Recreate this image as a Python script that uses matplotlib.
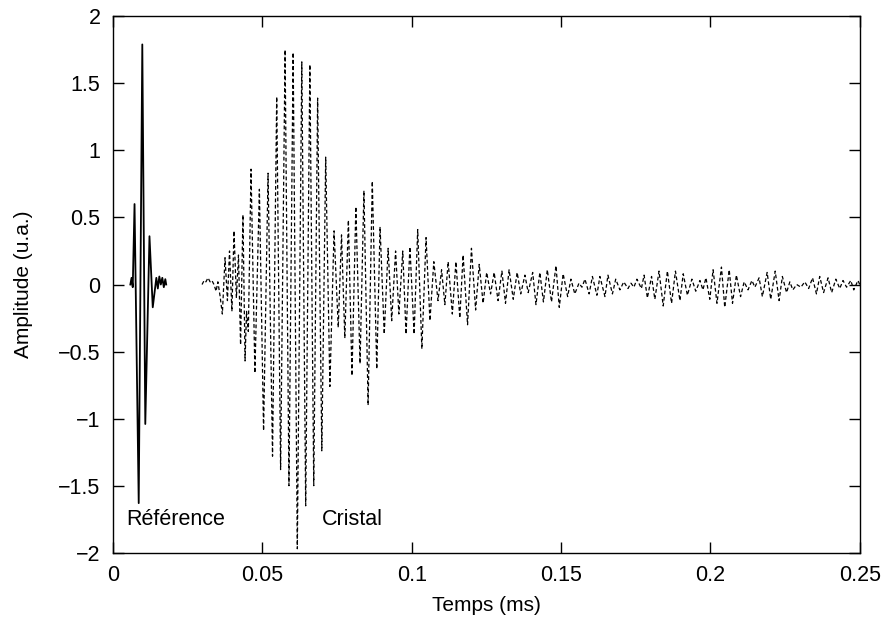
import matplotlib
matplotlib.use("Agg")
import matplotlib.pyplot as plt

plt.rcParams["font.family"] = ["Liberation Sans", "DejaVu Sans"]

# signal de reference (trait plein)
ref_t = [0.0058, 0.0062, 0.0066, 0.0072, 0.0086, 0.0098, 0.0108, 0.0122,
         0.0133, 0.0145, 0.0150, 0.0155, 0.0160, 0.0165, 0.0170, 0.0175, 0.0178]
ref_amp = [0.00, 0.05, -0.02, 0.60, -1.63, 1.79, -1.04, 0.36,
           -0.17, 0.05, -0.03, 0.06, 0.00, 0.05, -0.02, 0.04, 0.00]

# signal apres le cristal (pointilles), extrema
cristal_t = [
    0.0298, 0.0305, 0.0311, 0.0318, 0.0325, 0.0331, 0.0338, 0.0345, 0.0351, 0.0358,
    0.0366, 0.0375, 0.0383, 0.0390, 0.0398, 0.0405, 0.0413, 0.0420, 0.0427, 0.0435,
    0.0442, 0.0447, 0.0453, 0.0462, 0.0475, 0.0490, 0.0504, 0.0519, 0.0534, 0.0548,
    0.0561, 0.0576, 0.0589, 0.0603, 0.0617, 0.0632, 0.0645, 0.0659, 0.0672, 0.0685,
    0.0699, 0.0712, 0.0726, 0.0740, 0.0754, 0.0765, 0.0776, 0.0788, 0.0800, 0.0813,
    0.0827, 0.0840, 0.0854, 0.0868, 0.0883, 0.0894, 0.0908, 0.0921, 0.0933, 0.0946,
    0.0957, 0.0970, 0.0981, 0.0994, 0.1008, 0.1020, 0.1034, 0.1048, 0.1061, 0.1074,
    0.1088, 0.1100, 0.1111, 0.1122, 0.1136, 0.1148, 0.1161, 0.1172, 0.1187, 0.1200,
    0.1214, 0.1226, 0.1239, 0.1251, 0.1264, 0.1276, 0.1289, 0.1302, 0.1314, 0.1326,
    0.1340, 0.1353, 0.1365, 0.1379, 0.1390, 0.1405, 0.1416, 0.1429, 0.1441, 0.1454,
    0.1468, 0.1483, 0.1494, 0.1507, 0.1522, 0.1533, 0.1546, 0.1560, 0.1570, 0.1580,
    0.1594, 0.1605, 0.1620, 0.1630, 0.1647, 0.1657, 0.1672, 0.1683, 0.1697, 0.1710,
    0.1724, 0.1734, 0.1744, 0.1754, 0.1769, 0.1778, 0.1789, 0.1803, 0.1814, 0.1828,
    0.1842, 0.1856, 0.1870, 0.1883, 0.1898, 0.1909, 0.1923, 0.1938, 0.1951, 0.1965,
    0.1975, 0.1985, 0.1998, 0.2009, 0.2022, 0.2037, 0.2048, 0.2063, 0.2074, 0.2087,
    0.2101, 0.2113, 0.2126, 0.2139, 0.2149, 0.2163, 0.2174, 0.2190, 0.2202, 0.2217,
    0.2230, 0.2241, 0.2255, 0.2266, 0.2276, 0.2289, 0.2303, 0.2316, 0.2329, 0.2342,
    0.2355, 0.2366, 0.2379, 0.2394, 0.2406, 0.2420, 0.2433, 0.2444, 0.2456, 0.2470,
    0.2480, 0.2494, 0.2500,
]
cristal_amp = [
    0.00, 0.03, 0.02, 0.05, 0.02, 0.03, 0.00, -0.05, 0.02, -0.08,
    -0.22, 0.20, -0.12, 0.25, -0.20, 0.40, -0.10, 0.22, -0.45, 0.52,
    -0.57, -0.20, -0.35, 0.86, -0.66, 0.71, -1.09, 0.83, -1.28, 1.40,
    -1.38, 1.75, -1.50, 1.73, -1.97, 1.66, -1.65, 1.64, -1.50, 1.39,
    -1.24, 0.95, -0.76, 0.40, -0.32, 0.37, -0.40, 0.48, -0.68, 0.58,
    -0.59, 0.70, -0.90, 0.77, -0.63, 0.43, -0.37, 0.27, -0.27, 0.25,
    -0.22, 0.25, -0.37, 0.28, -0.37, 0.41, -0.48, 0.35, -0.27, 0.17,
    -0.12, 0.11, -0.15, 0.17, -0.22, 0.17, -0.25, 0.22, -0.30, 0.27,
    -0.19, 0.15, -0.14, 0.09, -0.07, 0.09, -0.12, 0.10, -0.14, 0.11,
    -0.11, 0.09, -0.07, 0.07, -0.06, 0.09, -0.15, 0.09, -0.13, 0.11,
    -0.13, 0.14, -0.17, 0.08, -0.09, 0.04, -0.07, 0.01, -0.02, 0.04,
    -0.07, 0.06, -0.08, 0.06, -0.09, 0.07, -0.07, 0.04, -0.04, 0.02,
    -0.03, 0.01, -0.02, 0.04, -0.03, 0.07, -0.10, 0.06, -0.11, 0.10,
    -0.16, 0.10, -0.14, 0.10, -0.12, 0.08, -0.08, 0.04, -0.05, 0.03,
    -0.04, 0.05, -0.11, 0.11, -0.14, 0.13, -0.17, 0.11, -0.14, 0.07,
    -0.09, 0.02, -0.04, 0.03, -0.02, 0.05, -0.09, 0.09, -0.11, 0.10,
    -0.12, 0.06, -0.06, 0.02, -0.04, 0.00, -0.02, 0.02, -0.03, 0.05,
    -0.07, 0.06, -0.06, 0.05, -0.06, 0.04, -0.03, 0.03, -0.02, 0.03,
    -0.04, 0.03, 0.00,
]

fig = plt.figure(figsize=(8.9, 6.26), dpi=100)
ax = fig.add_axes([0.127, 0.117, 0.839, 0.857])

ax.plot(ref_t, ref_amp, color="black", lw=1.3)
ax.plot(cristal_t, cristal_amp, color="black", lw=0.9, linestyle=(0, (3, 2)))

ax.text(0.0045, -1.75, "Référence", fontsize=15.5, va="center")
ax.text(0.0698, -1.75, "Cristal", fontsize=15.5, va="center")

ax.set_xlim(0, 0.25)
ax.set_ylim(-2, 2)
ax.set_xticks([0, 0.05, 0.1, 0.15, 0.2, 0.25])
ax.set_xticklabels(["0", "0.05", "0.1", "0.15", "0.2", "0.25"])
ax.set_yticks([-2, -1.5, -1, -0.5, 0, 0.5, 1, 1.5, 2])
ax.set_yticklabels(["\u22122", "\u22121.5", "\u22121", "\u22120.5", "0", "0.5", "1", "1.5", "2"])
ax.tick_params(direction="in", length=8, width=1, top=True, right=True, labelsize=15.5, pad=9)
for s in ax.spines.values():
    s.set_linewidth(1)

ax.set_xlabel("Temps (ms)", fontsize=15, labelpad=7)
ax.set_ylabel("Amplitude (u.a.)", fontsize=15, labelpad=18)

fig.savefig("out.png", dpi=100)
